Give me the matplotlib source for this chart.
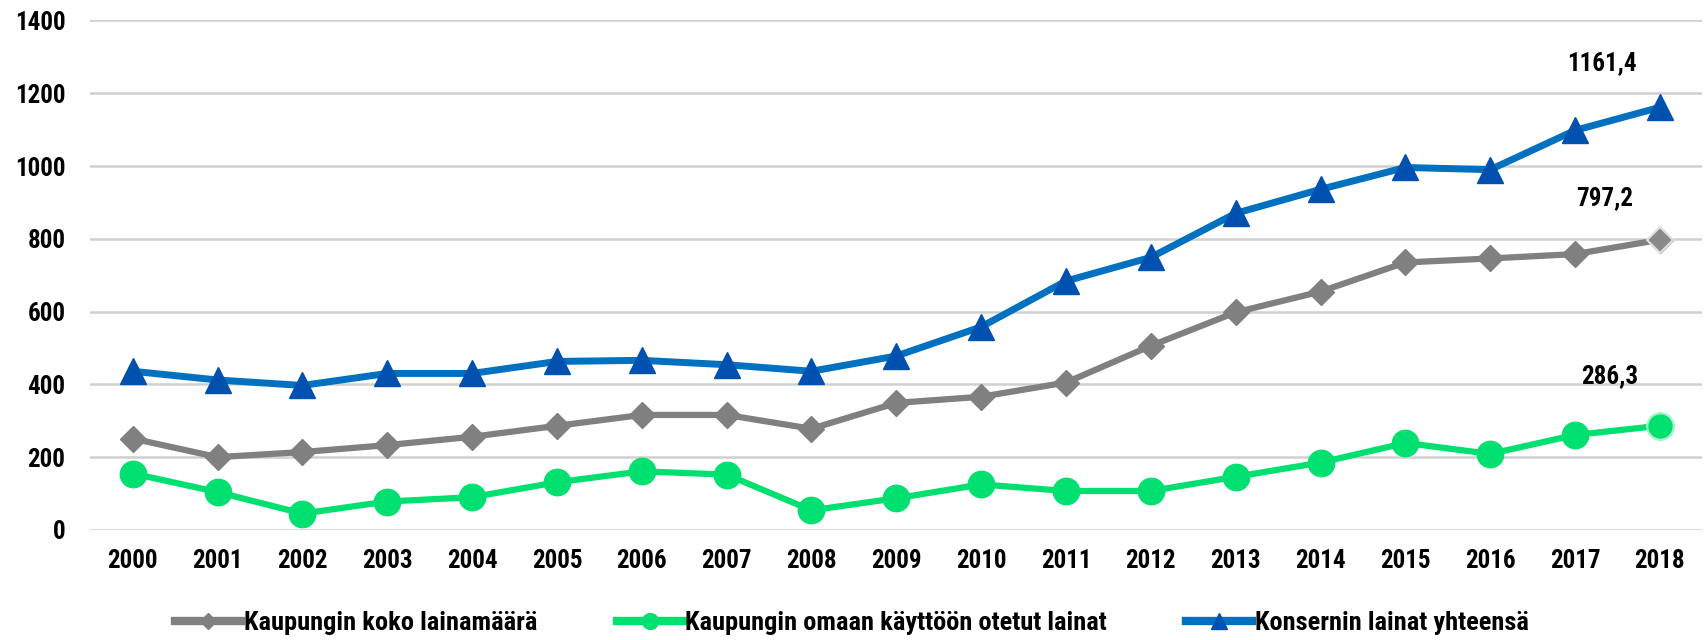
import matplotlib
matplotlib.use("Agg")
import matplotlib.pyplot as plt
from matplotlib import font_manager

years = [str(y) for y in range(2000, 2019)]
koko = [251, 200, 214, 233, 256, 286, 316, 316, 278, 349, 366, 405, 506, 598, 655, 735, 746, 758, 797.2]
omaan = [155, 104, 45, 78, 90, 131, 161, 152, 54, 87, 125, 107, 107, 146, 185, 239, 209, 261, 286.3]
konserni = [436, 412, 397, 430, 430, 463, 466, 454, 436, 478, 558, 684, 749, 870, 936, 996, 990, 1098, 1161.4]
labels = ["Kaupungin koko lainamäärä", "Kaupungin omaan käyttöön otetut lainat", "Konsernin lainat yhteensä"]
end_labels = ["797,2", "286,3", "1161,4"]
yticks = [0, 200, 400, 600, 800, 1000, 1200, 1400]

names = {f.name for f in font_manager.fontManager.ttflist}
fams = [n for n in ['Liberation Sans Narrow', 'Roboto Condensed', 'Open Sans Condensed',
                    'DejaVu Sans Condensed'] if n in names] + ['DejaVu Sans']
plt.rcParams['font.family'] = fams
plt.rcParams['font.weight'] = 'bold'
plt.rcParams['font.stretch'] = 'condensed'

fig = plt.figure(figsize=(17.04, 6.4), dpi=100)
ax = fig.add_axes([0.053, 0.172, 0.946, 0.796])

x = list(range(len(years)))
gray = '#808080'
green = '#00E070'
blue_line = '#0070C0'
blue_mk = '#0050B0'

ax.plot(x, koko, color=gray, lw=4.5, marker='D', ms=13, mfc=gray, mec=gray, label=labels[0], zorder=3)
ax.plot(x, omaan, color=green, lw=4.5, marker='o', ms=19, mfc=green, mec=green, label=labels[1], zorder=3)
ax.plot(x, konserni, color=blue_line, lw=5, marker='^', ms=19, mfc=blue_mk, mec=blue_mk, label=labels[2], zorder=3)

# highlighted last points
ax.plot(x[-1], koko[-1], marker='D', ms=13, mfc='#8a8a8a', mec='#e0e0e0', mew=1.5, zorder=4)
ax.plot(x[-1], omaan[-1], marker='o', ms=19, mfc=green, mec='#a8f5c8', mew=1.5, zorder=4)

offsets = [(-40, 21), (-36, 27), (-42, 23)]
for vals, txt, off in zip([koko, omaan, konserni], end_labels, offsets):
    ax.annotate(txt, (x[-1], vals[-1]), xytext=off, textcoords='offset points',
                ha='center', va='bottom', fontsize=18, fontweight='bold')

ax.set_xlim(-0.5, len(years) - 0.5)
ax.set_ylim(0, 1400)
ax.set_yticks(yticks)
ax.set_xticks(x)
ax.set_xticklabels(years)
ax.tick_params(axis='both', length=0, labelsize=18)
ax.tick_params(axis='x', pad=14)
ax.tick_params(axis='y', pad=18)
for s in ax.spines.values():
    s.set_visible(False)
ax.yaxis.grid(True, color='#D0D0D0', lw=1.8)
ax.set_axisbelow(True)

leg = fig.legend(loc='lower center', bbox_to_anchor=(0.5, -0.03), ncol=3, frameon=False,
                 fontsize=19, handlelength=2.5, columnspacing=3.0, handletextpad=0.1,
                 markerscale=0.6)
for h in leg.legend_handles:
    h.set_linewidth(6)

fig.savefig('out.png', dpi=100)
